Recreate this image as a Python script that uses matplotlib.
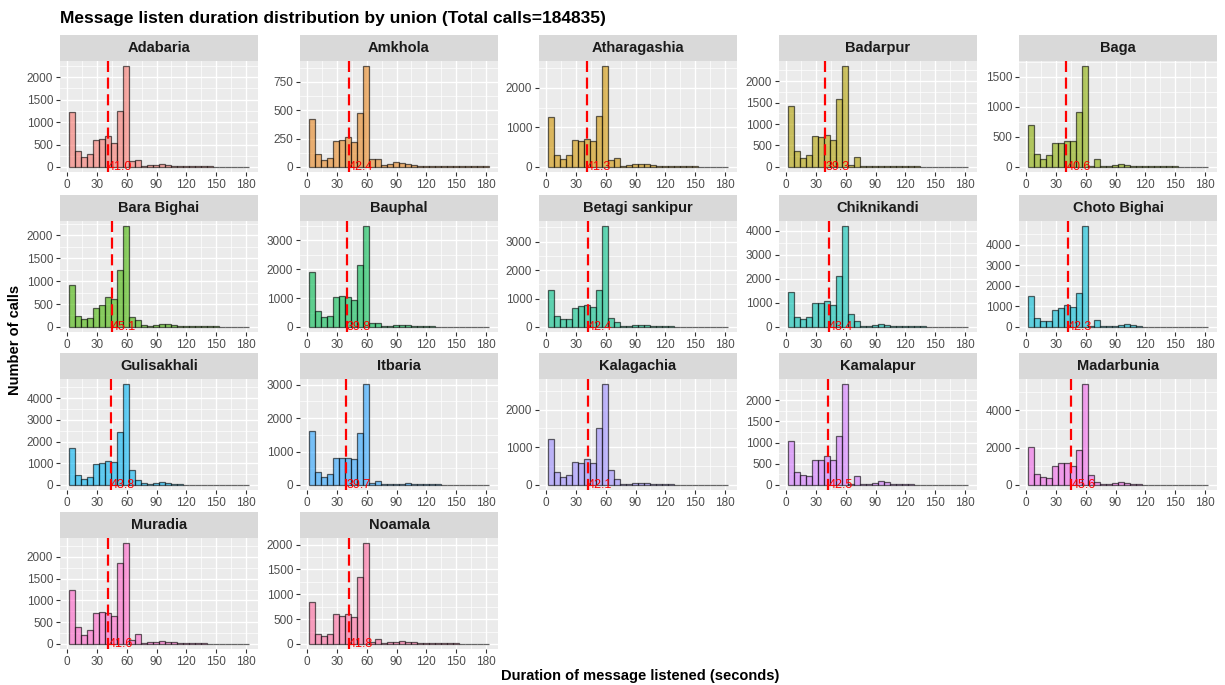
import numpy as np
import matplotlib
matplotlib.use("Agg")
import matplotlib.pyplot as plt

plt.rcParams['font.family'] = ['Liberation Sans', 'DejaVu Sans']

# union names, in facet order
unions = ['Adabaria', 'Amkhola', 'Atharagashia', 'Badarpur', 'Baga',
          'Bara Bighai', 'Bauphal', 'Betagi sankipur', 'Chiknikandi', 'Choto Bighai',
          'Gulisakhali', 'Itbaria', 'Kalagachia', 'Kamalapur', 'Madarbunia',
          'Muradia', 'Noamala']

# mean duration per union (dashed line + red label)
means = [41.0, 42.4, 41.3, 39.3, 40.6,
         45.1, 39.8, 42.4, 43.4, 42.3,
         43.8, 39.7, 42.1, 42.5, 45.6,
         41.6, 41.8]

# y tick spacing for each facet (free y scales)
y_steps = [500, 250, 1000, 500, 500,
           500, 1000, 1000, 1000, 1000,
           1000, 1000, 1000, 500, 2000,
           500, 500]

# histogram counts (30 bins, 0-180 s)
adabaria = [1220, 350, 220, 280, 610, 630, 700, 530, 1250, 2250, 130, 150, 30, 40, 50,
            60, 40, 30, 20, 20, 20, 20, 20, 15, 10, 10, 10, 10, 10, 10]
amkhola = [420, 110, 65, 75, 225, 235, 265, 220, 480, 890, 70, 70, 20, 30, 45,
           35, 25, 15, 10, 10, 10, 5, 5, 5, 5, 5, 5, 5, 5, 5]
atharagashia = [1250, 300, 200, 300, 680, 650, 700, 650, 1300, 2550, 180, 220, 30, 50, 70,
                80, 70, 40, 30, 20, 20, 20, 30, 25, 15, 10, 10, 10, 10, 10]
badarpur = [1420, 360, 220, 290, 730, 700, 750, 620, 1580, 2350, 40, 230, 20, 20, 30,
            30, 20, 20, 15, 15, 15, 15, 10, 10, 10, 5, 5, 5, 5, 5]
baga = [700, 210, 130, 200, 400, 400, 440, 440, 920, 1680, 20, 130, 20, 20, 30,
        45, 30, 20, 15, 10, 10, 10, 15, 10, 10, 5, 5, 5, 5, 5]
bara_bighai = [920, 240, 170, 200, 420, 480, 650, 600, 1250, 2200, 220, 160, 50, 30, 40,
               60, 70, 50, 20, 10, 10, 10, 10, 10, 10, 5, 5, 5, 5, 5]
bauphal = [1900, 560, 330, 380, 1050, 1080, 1050, 950, 2150, 3500, 150, 150, 50, 40, 60,
           80, 70, 50, 30, 20, 20, 15, 15, 10, 10, 10, 10, 10, 10, 10]
betagi = [1300, 400, 270, 280, 680, 750, 780, 700, 1300, 3550, 330, 190, 30, 40, 60,
          80, 70, 50, 30, 20, 20, 15, 15, 10, 10, 10, 10, 10, 5, 5]
chiknikandi = [1450, 400, 320, 430, 1000, 1000, 1100, 900, 2100, 4200, 550, 250, 50, 60, 80,
               120, 100, 60, 40, 30, 20, 20, 20, 15, 10, 10, 10, 10, 10, 10]
choto_bighai = [1520, 430, 280, 270, 800, 920, 1050, 950, 1650, 4900, 30, 350, 30, 40, 60,
                100, 140, 80, 30, 20, 20, 20, 15, 15, 10, 10, 10, 10, 10, 10]
gulisakhali = [1700, 480, 280, 380, 950, 1000, 1100, 1050, 2450, 4650, 680, 220, 80, 60, 100,
               130, 100, 60, 30, 20, 20, 20, 15, 15, 10, 10, 10, 10, 10, 10]
itbaria = [1600, 380, 250, 320, 800, 820, 820, 780, 1550, 3020, 60, 130, 20, 20, 30,
           40, 50, 40, 30, 20, 20, 20, 10, 10, 10, 10, 10, 10, 10, 10]
kalagachia = [1220, 350, 220, 270, 600, 580, 700, 580, 1500, 2680, 400, 150, 20, 30, 50,
              60, 60, 30, 20, 15, 15, 10, 10, 10, 10, 5, 5, 5, 5, 5]
kamalapur = [1040, 300, 230, 220, 590, 580, 680, 580, 1160, 2380, 20, 200, 30, 30, 50,
             100, 70, 30, 20, 15, 15, 10, 10, 10, 10, 5, 5, 5, 5, 5]
madarbunia = [2050, 560, 450, 370, 1000, 1150, 1170, 1000, 1850, 5400, 550, 150, 60, 60, 80,
              150, 120, 60, 30, 20, 20, 15, 15, 10, 10, 10, 10, 10, 10, 10]
muradia = [1230, 380, 200, 310, 720, 730, 720, 640, 1860, 2320, 100, 220, 30, 40, 50,
           60, 50, 40, 30, 20, 20, 15, 15, 10, 10, 5, 5, 5, 5, 5]
noamala = [850, 200, 150, 210, 600, 560, 610, 540, 1350, 2030, 30, 100, 20, 30, 40,
           50, 40, 30, 20, 15, 15, 10, 10, 10, 10, 5, 5, 5, 5, 5]

counts = [adabaria, amkhola, atharagashia, badarpur, baga,
          bara_bighai, bauphal, betagi, chiknikandi, choto_bighai,
          gulisakhali, itbaria, kalagachia, kamalapur, madarbunia,
          muradia, noamala]

bin_edges = np.linspace(2, 183, 31)
x_ticks = [0, 30, 60, 90, 120, 150, 180]


def hcl_color(h, c=100, l=65):
    # ggplot-style hue palette (polar LUV -> sRGB)
    h = np.radians(h)
    U, V = c * np.cos(h), c * np.sin(h)
    Xn, Yn, Zn = 95.047, 100.0, 108.883
    un = 4 * Xn / (Xn + 15 * Yn + 3 * Zn)
    vn = 9 * Yn / (Xn + 15 * Yn + 3 * Zn)
    Y = Yn * ((l + 16) / 116) ** 3
    u = U / (13 * l) + un
    v = V / (13 * l) + vn
    X = 9 * Y * u / (4 * v)
    Z = -X / 3 - 5 * Y + 3 * Y / v
    M = np.array([[3.2404542, -1.5371385, -0.4985314],
                  [-0.9692660, 1.8760108, 0.0415560],
                  [0.0556434, -0.2040259, 1.0572252]])
    rgb = M @ (np.array([X, Y, Z]) / 100)
    rgb = np.where(rgb <= 0.0031308, 12.92 * rgb, 1.055 * np.clip(rgb, 0, None) ** (1 / 2.4) - 0.055)
    return tuple(np.clip(rgb, 0, 1))


n = len(unions)
hues = np.linspace(15, 375, n + 1)[:n]
colors = [hcl_color(h) for h in hues]

W, H = 1225, 685
fig = plt.figure(figsize=(W / 100, H / 100), dpi=100)

col_left = [60, 300, 539, 779, 1019]
panel_w = 198
strip_top = [35, 195, 353, 512]
strip_h = 26
panel_h = 111

for i, name in enumerate(unions):
    r, c = divmod(i, 5)
    x0 = col_left[c]
    ptop = strip_top[r] + strip_h
    ax = fig.add_axes([x0 / W, 1 - (ptop + panel_h) / H, panel_w / W, panel_h / H])
    ax.set_facecolor('#EBEBEB')
    vals = counts[i]
    ax.bar(bin_edges[:-1], vals, width=np.diff(bin_edges), align='edge',
           color=colors[i], alpha=0.6, edgecolor='black', linewidth=0.9, zorder=2)
    ymax = max(vals)
    ax.set_ylim(-0.05 * ymax, 1.05 * ymax)
    ax.set_xlim(-7, 192)
    step = y_steps[i]
    ax.set_yticks(np.arange(0, ymax + 1, step))
    ax.set_yticks(np.arange(step / 2, ymax * 1.05, step), minor=True)
    ax.set_xticks(x_ticks)
    ax.set_xticks([15, 45, 75, 105, 135, 165], minor=True)
    ax.grid(which='major', color='white', linewidth=1.0, zorder=0)
    ax.grid(which='minor', color='white', linewidth=0.5, zorder=0)
    ax.set_axisbelow(True)
    for s in ax.spines.values():
        s.set_visible(False)
    ax.tick_params(which='major', length=3, color='#333333', labelsize=8.5, labelcolor='#4D4D4D', pad=2)
    ax.tick_params(which='minor', length=0)
    ax.axvline(means[i], color='red', linestyle=(0, (5, 2.5)), linewidth=1.6, zorder=3)
    ax.text(means[i], 0, f'{means[i]:.1f}', color='red', fontsize=9,
            ha='left', va='center', zorder=4)
    # strip
    sax = fig.add_axes([x0 / W, 1 - (strip_top[r] + strip_h) / H, panel_w / W, strip_h / H])
    sax.set_facecolor('#D9D9D9')
    sax.set_xticks([])
    sax.set_yticks([])
    for s in sax.spines.values():
        s.set_visible(False)
    sax.text(0.5, 0.5, name, ha='center', va='center', fontsize=10.5,
             fontweight='bold', color='#1A1A1A', transform=sax.transAxes)

fig.text(60 / W, 1 - 18 / H, 'Message listen duration distribution by union (Total calls=184835)',
         fontsize=12.5, fontweight='bold', ha='left', va='center')
fig.text(15 / W, 1 - 340 / H, 'Number of calls', rotation=90, fontsize=10.5,
         fontweight='bold', ha='center', va='center')
fig.text(640 / W, 1 - 676 / H, 'Duration of message listened (seconds)', fontsize=10.5,
         fontweight='bold', ha='center', va='center')

fig.savefig('out.png', dpi=100)
